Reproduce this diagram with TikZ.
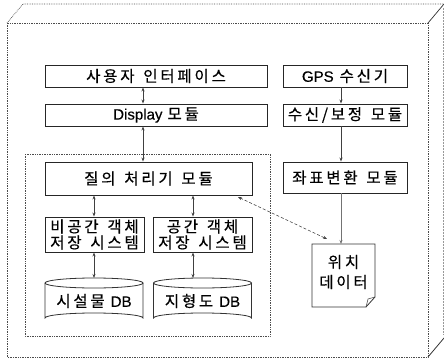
\documentclass[tikz,border=0pt]{standalone}
\usepackage{fontspec}
\newfontfamily\kr{Noto Sans CJK KR}[LetterSpace=18,WordSpace=1.4,FakeBold=0.4]
\newfontfamily\lat{Liberation Sans}[Scale=0.97,FakeBold=0.3]
\usetikzlibrary{arrows.meta}
\begin{document}
\begin{tikzpicture}[x=1pt,y=-1pt,
  box/.style={draw=black!85, line width=0.9pt, rectangle, inner sep=0pt, align=center,
    font=\kr\fontsize{15.5}{16}\selectfont},
  lbl/.style={inner sep=0pt, align=center, font=\kr\fontsize{15.5}{20}\selectfont},
  conn/.style={draw=black!75, line width=0.7pt},
  tip/.style={-{Stealth[length=4pt,width=3pt]}},
  tips/.style={{Stealth[length=4pt,width=3pt]}-{Stealth[length=4pt,width=3pt]}},
  outer/.style={draw=black!70, line width=0.7pt, densely dotted},
]
\useasboundingbox (0,0) rectangle (444,361);
% outer 3D box
\draw[outer] (7,23) rectangle (428,357);
\draw[outer] (7,23) -- (23,4) -- (444,4);
\draw[draw=black!80, line width=0.7pt] (428,23) -- (444,4);
\draw[draw=black!80, line width=0.8pt] (428,357) -- (444,338);
\draw[draw=black!40, line width=0.5pt, densely dotted] (443,8) -- (443,335);
% dashed region
\draw[draw=black!70, line width=0.7pt, densely dotted] (25,154) rectangle (270,336);
% boxes
\node[box, minimum width=222pt, minimum height=22pt] (ui) at (156,76) {사용자 인터페이스};
\node[box, minimum width=222pt, minimum height=22pt] (disp) at (156,115) {{\lat Display}\hspace{5pt}모듈};
\node[box, minimum width=124pt, minimum height=22pt] (gps) at (345,76) {{\lat GPS}\hspace{6pt}수신기};
\node[box, minimum width=124pt, minimum height=22pt] (recv) at (345,115) {수신/보정 모듈};
\node[box, minimum width=124pt, minimum height=31pt] (coord) at (345,177.5) {좌표변환 모듈};
\node[box, minimum width=207pt, minimum height=33pt] (query) at (148.5,178.5) {질의 처리기 모듈};
\node[box, minimum width=99pt, minimum height=35pt] (nsp) at (94.5,234.5) {비공간 객체\\저장 시스템};
\node[box, minimum width=99pt, minimum height=35pt] (sp) at (202.5,234.5) {공간 객체\\저장 시스템};
% cylinders
\foreach \cx/\nm/\tx in {94/db1/{시설물\hspace{6pt}{\lat DB}}, 202.5/db2/{지형도\hspace{6pt}{\lat DB}}}{
  \draw[draw=black!80, line width=0.8pt] (\cx-49,283) arc[start angle=180, end angle=540, x radius=49, y radius=5];
  \draw[draw=black!80, line width=0.8pt] (\cx-49,283) -- (\cx-49,318) arc[start angle=180, end angle=360, x radius=49, y radius=5] -- (\cx+49,283);
  \node[lbl] (\nm) at (\cx,301) {\tx};
  \coordinate (\nm top) at (\cx,278);
}
% document
\draw[draw=black!80, line width=0.8pt] (312,244) -- (375,244) -- (375,297) -- (366,307) -- (312,307) -- cycle;
\draw[draw=black!70, line width=0.6pt] (366,307) -- (368,299) -- (375,297);
\node[lbl] (doc) at (343.5,272) {위치\\데이터};
\coordinate (doctop) at (341,244);
% connectors
\coordinate (ax) at (143,0);
\coordinate (gx) at (341,0);
\coordinate (nx) at (94,0);
\coordinate (sx) at (193,0);
\draw[conn,tips] (ui.south -| ax) -- (disp.north -| ax);
\draw[conn,tips] (disp.south -| ax) -- (query.north -| ax);
\draw[conn,tip] (gps.south -| gx) -- (recv.north -| gx);
\draw[conn,tip] (recv.south -| gx) -- (coord.north -| gx);
\draw[conn,tip,draw=black!55] (coord.south -| gx) -- (doctop);
\draw[conn,tips] (query.south -| nx) -- (nsp.north -| nx);
\draw[conn,tips] (query.south -| sx) -- (sp.north -| sx);
\draw[conn,tips] (nsp.south -| nx) -- (db1top -| nx);
\draw[conn,tips] (sp.south -| sx) -- (db2top -| sx);
\coordinate (qa) at (238,197);
\coordinate (da) at (327,239);
\draw[conn,tips,densely dashed,line width=0.6pt] (qa) -- (da);
\end{tikzpicture}
\end{document}
